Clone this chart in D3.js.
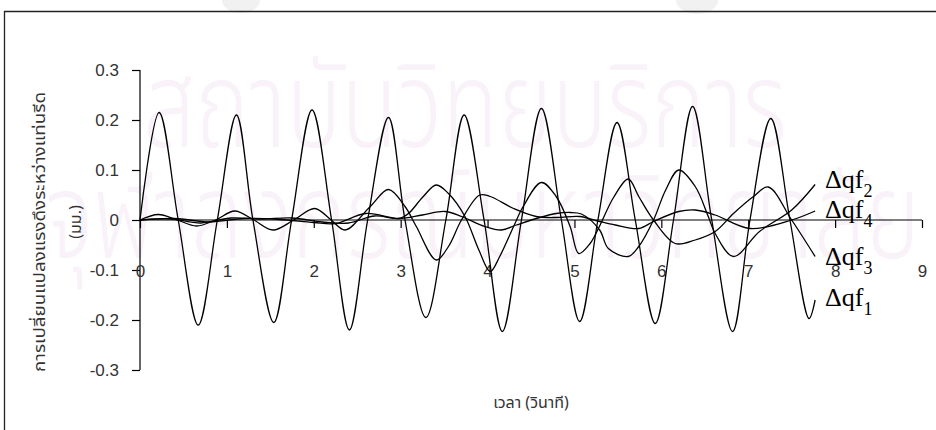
<!DOCTYPE html>
<html>
<head>
<meta charset="utf-8">
<script src="https://cdn.jsdelivr.net/npm/d3@7"></script>
<style>
  html, body { margin: 0; padding: 0; background: #fff; }
  svg { display: block; }
</style>
</head>
<body>
<svg id="chart" width="936" height="430"></svg>
<script>
// ---- data ----
const xTickValues = [0, 1, 2, 3, 4, 5, 6, 7, 8, 9];
const yTickValues = [-0.3, -0.2, -0.1, 0, 0.1, 0.2, 0.3];
const yTickLabels = ["-0.3", "-0.2", "-0.1", "0", "0.1", "0.2", "0.3"];

// Δqf1 — time (s) and value (mm)
const timeQf1 = [0,0.22,0.44,0.67,0.89,1.11,1.30,1.54,1.745,1.98,2.205,2.41,2.62,2.86,3.05,3.29,3.52,3.73,3.96,4.17,4.39,4.62,4.85,5.06,5.27,5.49,5.70,5.93,6.14,6.36,6.58,6.82,7.02,7.26,7.48,7.70,7.77];
const valQf1  = [0,0.215,0,-0.21,0,0.21,0,-0.205,0,0.22,0,-0.22,0,0.205,0,-0.195,0,0.21,0,-0.223,0,0.223,0,-0.203,0,0.195,0,-0.207,0,0.227,0,-0.223,0,0.203,0,-0.197,-0.16];

// Δqf2
const timeQf2 = [0,0.4,0.8,1.2,1.6,2.0,2.25,2.6,2.98,3.25,3.51,3.70,3.97,4.16,4.33,4.6,4.79,4.95,5.08,5.29,5.39,5.62,5.74,5.91,6.05,6.2,6.39,6.54,6.62,6.83,7.13,7.5,7.77];
const valQf2  = [0,0.003,-0.004,0.003,0.001,-0.005,-0.007,0.013,0.003,0.01,0.017,0.007,-0.013,-0.02,-0.01,0.005,0.013,0.015,0.012,-0.02,-0.057,-0.073,-0.053,0,0.06,0.1,0.067,0.007,-0.027,-0.073,-0.023,0.02,0.071];

// Δqf3
const timeQf3 = [0,0.35,0.7,1.05,1.4,1.75,2.1,2.4,2.7,2.98,3.09,3.25,3.41,3.55,3.74,3.9,4.03,4.14,4.30,4.41,4.62,4.79,4.95,5.05,5.18,5.29,5.45,5.62,5.74,5.91,6.16,6.39,6.62,6.83,7.06,7.23,7.5,7.77];
const valQf3  = [0,0.002,-0.006,0.004,0.002,0.004,-0.004,-0.006,0.008,0.003,0.013,0.045,0.07,0.053,0.007,-0.06,-0.103,-0.073,-0.013,0.027,0.075,0.047,-0.013,-0.067,-0.047,-0.012,0.045,0.082,0.047,0,-0.047,-0.04,-0.023,0.013,0.047,0.066,0,-0.073];

// Δqf4
const timeQf4 = [0,0.21,0.43,0.65,0.87,1.09,1.31,1.53,1.77,2.01,2.2,2.36,2.65,2.86,3.05,3.18,3.41,3.55,3.70,3.91,4.03,4.30,4.56,4.80,5.06,5.29,5.47,5.74,5.91,6.2,6.39,6.62,7.02,7.5,7.77];
const valQf4  = [0,0.011,0,-0.012,0,0.018,0,-0.02,0,0.023,0,-0.02,0.027,0.061,0.027,-0.013,-0.08,-0.053,0,0.05,0.047,0.023,0.007,0.005,0.007,-0.003,-0.01,-0.017,-0.003,0.017,0.02,0.01,-0.017,0,0.018];

const seriesBase = "Δqf";
const seriesSubs = ["1", "2", "3", "4"];

const xTitle = "เวลา (วินาที)";
const yTitleLines = ["การเปลี่ยนแปลงแรงดึงระหว่างแท่นรีด", "(มม.)"];
const watermarkLines = ["สถาบันวิทยบริการ", "จุฬาลงกรณ์มหาวิทยาลัย"];

// ---- drawing ----
const svg = d3.select("#chart");
const thaiFont = "'Noto Sans Thai', 'Noto Sans Thai UI', 'Noto Sans', 'DejaVu Sans', sans-serif";
const axisFont = "'Liberation Sans', Arial, sans-serif";
const serifFont = "'Liberation Serif', 'Times New Roman', serif";

// faint background emblem fragments and watermark
svg.append("ellipse").attr("cx", 241).attr("cy", 0).attr("rx", 19).attr("ry", 13).attr("fill", "#f1f1f1");
svg.append("ellipse").attr("cx", 697).attr("cy", 0).attr("rx", 21).attr("ry", 14).attr("fill", "#f1f1f1");

const wm = svg.append("g").attr("fill", "#f9f2f9").style("font-family", thaiFont)
  .style("font-size", "120px").style("font-weight", 300);
wm.append("text").attr("x", 143).attr("y", 147)
  .attr("textLength", 644).attr("lengthAdjust", "spacingAndGlyphs").text(watermarkLines[0]);
wm.append("text").attr("x", 45).attr("y", 258)
  .attr("textLength", 875).attr("lengthAdjust", "spacingAndGlyphs").text(watermarkLines[1]);

// outer frame (runs off the right and bottom edges)
svg.append("path").attr("d", "M4.5,430V11.5H936").attr("fill", "none")
  .attr("stroke", "#222").attr("stroke-width", 1.3);

const x = d3.scaleLinear().domain([0, 9]).range([140, 922]);
const y = d3.scaleLinear().domain([-0.3, 0.3]).range([370, 70]);

// y axis
const yAxis = svg.append("g").attr("transform", `translate(${x(0)},0)`)
  .call(d3.axisLeft(y).tickValues(yTickValues).tickSize(8).tickPadding(13)
    .tickFormat((d, i) => yTickLabels[i]));
yAxis.select(".domain").attr("d", `M0,${y(0.3)}V${y(-0.3)}`);

// x axis at zero
const xAxis = svg.append("g").attr("transform", `translate(0,${y(0)})`)
  .call(d3.axisBottom(x).tickValues(xTickValues).tickSize(8).tickPadding(37)
    .tickFormat(d3.format("d")));
xAxis.select(".domain").attr("d", `M${x(0)},0H${x(9)}`);

svg.selectAll(".tick text").style("font-family", axisFont).style("font-size", "17px").attr("fill", "#333");
svg.selectAll(".tick line, .domain").attr("stroke", "#000").attr("stroke-width", 1.2);

// series lines
const line = d3.line()
  .x(d => x(d[0])).y(d => y(d[1]))
  .curve(d3.curveCatmullRom.alpha(0.5));

const series = [
  d3.zip(timeQf1, valQf1),
  d3.zip(timeQf2, valQf2),
  d3.zip(timeQf3, valQf3),
  d3.zip(timeQf4, valQf4)
];

svg.append("g").selectAll("path").data(series).join("path")
  .attr("d", line).attr("fill", "none")
  .attr("stroke", "#000").attr("stroke-width", 1.3).attr("stroke-linejoin", "round");

// end labels
const labelPos = [[825, 306], [825, 188], [825, 265], [825, 218]];
const lbl = svg.append("g").style("font-family", serifFont).attr("fill", "#000");
seriesSubs.forEach((s, i) => {
  const t = lbl.append("text").attr("x", labelPos[i][0]).attr("y", labelPos[i][1]).style("font-size", "26px");
  t.append("tspan").text(seriesBase);
  t.append("tspan").attr("dy", 9).style("font-size", "18px").text(s);
});

// axis titles
svg.append("text").attr("x", x(4.5)).attr("y", 408).attr("text-anchor", "middle")
  .style("font-family", thaiFont).style("font-size", "16px").attr("fill", "#333").text(xTitle);

svg.append("text").attr("transform", "translate(45,232) rotate(-90)").attr("text-anchor", "middle")
  .style("font-family", thaiFont).style("font-size", "16px").attr("fill", "#333")
  .attr("textLength", 280).attr("lengthAdjust", "spacingAndGlyphs").text(yTitleLines[0]);
svg.append("text").attr("transform", "translate(81,222) rotate(-90)").attr("text-anchor", "middle")
  .style("font-family", thaiFont).style("font-size", "16px").attr("fill", "#333").text(yTitleLines[1]);
</script>
</body>
</html>
